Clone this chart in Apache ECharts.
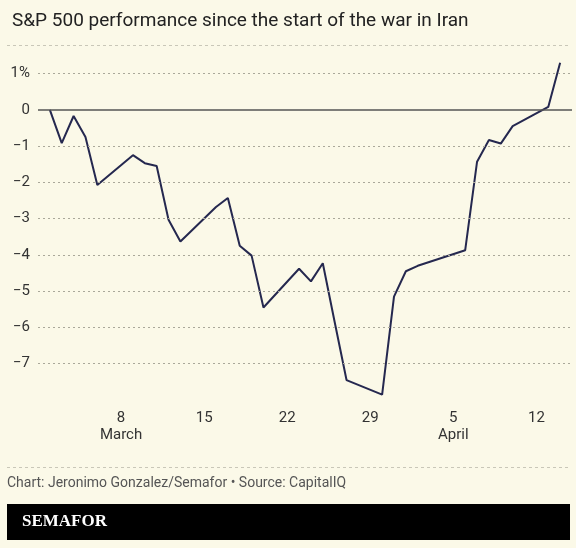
<!DOCTYPE html>
<html>
<head>
<meta charset="utf-8">
<script src="https://cdn.jsdelivr.net/npm/echarts@6/dist/echarts.min.js"></script>
<style>
  html, body { margin: 0; padding: 0; background: #fbf9e8; }
  #main { width: 576px; height: 548px; }
</style>
</head>
<body>
<div id="main"></div>
<script>
// day offsets counted from March 1
var days = [1, 2, 3, 4, 5, 8, 9, 10, 11, 12, 15, 16, 17, 18, 19, 22, 23, 24, 25, 26, 29, 30, 31, 32, 36, 37, 38, 39, 40, 43, 44];
var changes = [0, -0.92, -0.17, -0.75, -2.07, -1.25, -1.47, -1.55, -3.03, -3.63, -2.68, -2.43, -3.75, -4.02, -5.45,
  -4.38, -4.73, -4.23, -5.85, -7.45, -7.85, -5.15, -4.45, -4.3, -3.87, -1.43, -0.83, -0.93, -0.45, 0.08, 1.3];
var tickLabels = { 7: '8\nMarch', 14: '15', 21: '22', 28: '29', 35: '5\nApril', 42: '12' };
var gridValues = [1, -1, -2, -3, -4, -5, -6, -7];

var font = '"Liberation Sans Narrow", "Roboto", sans-serif';
var chart = echarts.init(document.getElementById('main'));

var option = {
  backgroundColor: '#fbf9e8',
  animation: false,
  textStyle: { fontFamily: font },
  title: {
    text: 'S&P 500 performance since the start of the war in Iran',
    left: 7, top: 7,
    textStyle: { fontFamily: 'Roboto, sans-serif', fontSize: 19, fontWeight: 'normal', color: '#222' }
  },
  grid: { left: 38, right: 4, top: 46, bottom: 148, containLabel: false, outerBoundsMode: 'none' },
  xAxis: {
    type: 'value', min: 0, max: 45, interval: 7,
    axisLine: { show: false }, axisTick: { show: false }, splitLine: { show: false },
    axisLabel: {
      margin: 10, fontSize: 15, color: '#333', lineHeight: 17, fontFamily: font,
      formatter: function (v) { return tickLabels[v] || ''; }
    }
  },
  yAxis: {
    type: 'value', min: -8, max: 1.76, interval: 1,
    axisLine: { show: false }, axisTick: { show: false }, splitLine: { show: false },
    axisLabel: {
      margin: 8, fontSize: 15, color: '#333', fontFamily: font,
      formatter: function (v) {
        if (v === -8 || Math.round(v) !== v) return '';
        if (v === 1) return '1%';
        if (v === 0) return '0';
        return '\u2212' + Math.abs(v);
      }
    }
  },
  graphic: [
    { type: 'line', shape: { x1: 7, y1: 45.5, x2: 570, y2: 45.5 }, style: { stroke: '#c9c7b8', lineDash: [3, 3] } },
    { type: 'line', shape: { x1: 7, y1: 467.5, x2: 570, y2: 467.5 }, style: { stroke: '#c9c7b8', lineDash: [3, 3] } },
    { type: 'text', left: 7, top: 476, style: { text: 'Chart: Jeronimo Gonzalez/Semafor \u2022 Source: CapitalIQ', font: '14px ' + font, fill: '#555' } },
    { type: 'rect', shape: { x: 7, y: 504, width: 563, height: 36 }, style: { fill: '#000' } },
    { type: 'text', left: 22, top: 513, style: { text: 'SEMAFOR', font: 'bold 17px "Liberation Serif", serif', fill: '#fff' } }
  ],
  series: [{
    type: 'line',
    data: days.map(function (d, i) { return [d, changes[i]]; }),
    symbol: 'none',
    lineStyle: { color: '#25284f', width: 2 },
    markLine: {
      silent: true, symbol: 'none', label: { show: false },
      data: gridValues.map(function (v) {
        return { yAxis: v, lineStyle: { color: '#aaa89a', type: [2, 3], width: 1 } };
      }).concat([{ yAxis: 0, lineStyle: { color: '#555', type: 'solid', width: 1.5 } }])
    }
  }]
};
chart.setOption(option);
</script>
</body>
</html>
